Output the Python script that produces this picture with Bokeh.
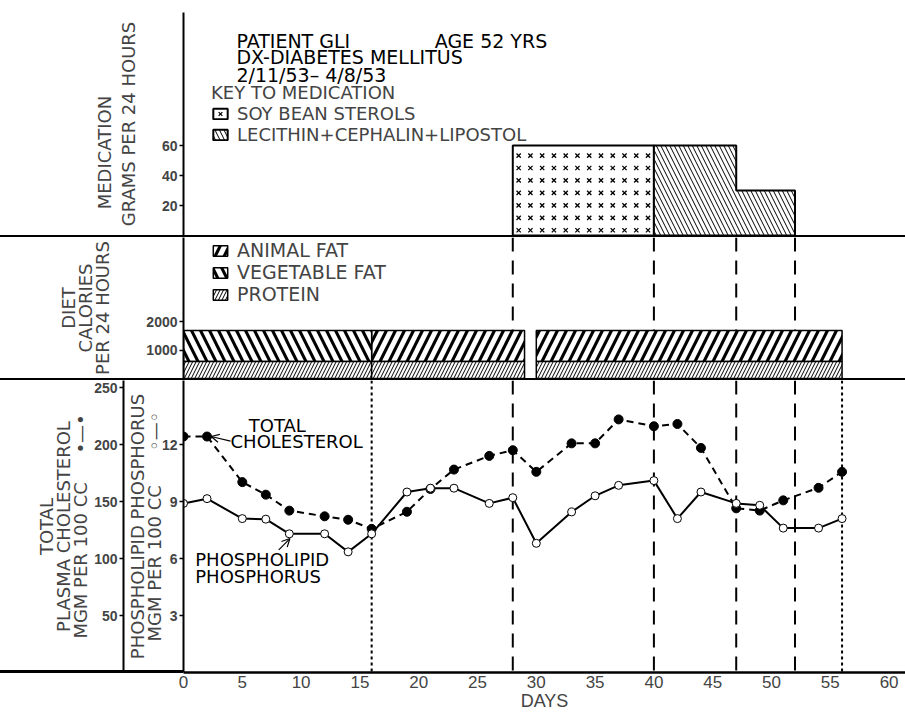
import numpy as np
from bokeh.plotting import figure
from bokeh.models import (Range1d, LinearAxis, FixedTicker, Span, Label, Arrow,
                          OpenHead, Legend, LegendItem, Div)
from bokeh.layouts import column
from bokeh.embed import file_html
from bokeh.resources import INLINE

FONT = "DejaVu Sans"
NUM_FONT = "Liberation Sans"

# ---------------- data ----------------
day_ticks = [0, 5, 10, 15, 20, 25, 30, 35, 40, 45, 50, 55, 60]
med_ticks = [20, 40, 60]
diet_ticks = [1000, 2000]
chol_ticks = [50, 100, 150, 200, 250]
phos_ticks = [3, 6, 9, 12]

soy_days = [28, 40]
soy_dose = 60
leci_days = [40, 47, 52]
leci_dose = [60, 30]

veg_left, veg_right = [0], [16]
animal_left, animal_right = [16, 30], [29, 56]
protein_left, protein_right = [0, 16, 30], [16, 29, 56]
protein_cal = 600
total_cal = 1700

event_days_dashed = [28, 40, 47, 52]
event_days_dotted = [16, 56]

chol_days = [0, 2, 5, 7, 9, 12, 14, 16, 19, 21, 23, 26, 28, 30, 33, 35, 37, 40, 42, 44, 47, 49, 51, 54, 56]
chol_vals = [207, 207, 167, 156, 142, 137, 134, 126, 141, 161, 178, 190, 195, 176, 201, 201, 222, 216, 218, 197, 144, 142, 151, 162, 176]
phos_days = [0, 2, 5, 7, 9, 12, 14, 16, 19, 21, 23, 26, 28, 30, 33, 35, 37, 40, 42, 44, 47, 49, 51, 54, 56]
phos_vals = [8.9, 9.15, 8.1, 8.07, 7.3, 7.3, 6.35, 7.3, 9.5, 9.7, 9.7, 8.9, 9.2, 6.8, 8.45, 9.3, 9.85, 10.1, 8.1, 9.5, 8.9, 8.8, 7.6, 7.6, 8.1]

# ---------------- layout constants ----------------
W = 905
LB = 183
PX_DAY = 11.76
X_END = (W - LB) / PX_DAY


def base_fig(height, y_end, top=0, bottom=0):
    p = figure(width=W, height=height, x_range=Range1d(0, X_END), y_range=Range1d(0, y_end),
               output_backend="svg", toolbar_location=None, x_axis_location=None,
               y_axis_location=None, min_border_left=LB, min_border_right=0,
               min_border_top=top, min_border_bottom=bottom)
    p.outline_line_color = None
    p.grid.visible = False
    p.background_fill_color = "white"
    p.border_fill_color = "white"
    return p


def style_yaxis(ax, standoff, line_height):
    ax.axis_line_width = 2
    ax.major_tick_in = 0
    ax.major_tick_out = 4
    ax.major_tick_line_width = 1.5
    ax.minor_tick_line_color = None
    ax.major_label_standoff = 2
    ax.major_label_text_font = NUM_FONT
    ax.major_label_text_font_size = "14px"
    ax.major_label_text_font_style = "bold"
    ax.axis_label_text_font = FONT
    ax.axis_label_text_font_size = "18px"
    ax.axis_label_text_font_style = "normal"
    ax.axis_label_standoff = standoff
    ax.axis_label_text_line_height = line_height


def rule(width, height, margin=(0, 0, 0, 0)):
    return Div(width=width, height=height, margin=margin,
               styles={"background-color": "black", "position": "relative", "z-index": "5"})


def label(p, txt, x, y, size, **kw):
    p.add_layout(Label(x=x, y=y, text=txt, text_font=FONT, text_font_size=size,
                       text_baseline="middle", text_color="black", **kw))


# ---------------- medication panel ----------------
p1 = base_fig(235, 223 / 1.5, top=12)
ax1 = LinearAxis(ticker=FixedTicker(ticks=med_ticks),
                 axis_label="MEDICATION" + "\u00a0" * 10 + "\nGRAMS PER 24 HOURS")
style_yaxis(ax1, 20, 1.15)
p1.add_layout(ax1, "left")

soy_r = p1.quad(left=[soy_days[0]], right=[soy_days[1]], bottom=[0], top=[soy_dose],
                fill_color="white", line_color="black", line_width=2)
gx, gy = np.meshgrid(np.arange(soy_days[0] + 0.5, soy_days[1], 1.0),
                     np.arange(3.5, soy_dose, 8.3))
soyx_r = p1.scatter(gx.ravel(), gy.ravel(), marker="x", size=6, line_width=1.3, line_color="black")

lx, ly = [leci_days[0]], [0]
for i, d in enumerate(leci_dose):
    lx += [leci_days[i], leci_days[i + 1]]
    ly += [d, d]
lx.append(leci_days[-1])
ly.append(0)
leci_r = p1.patch(lx, ly, fill_color="white", hatch_pattern="left_diagonal_line",
                  hatch_color="black", hatch_scale=9, hatch_weight=1,
                  line_color="black", line_width=2)

header = ["PATIENT GLI" + "\u00a0" * 14 + "AGE 52 YRS", "DX-DIABETES MELLITUS", "2/11/53\u2013 4/8/53"]
for txt, yy in zip(header, [130.0, 119.0, 106.7]):
    label(p1, txt, 4.5, yy, "19px")

leg1 = Legend(items=[LegendItem(label="SOY BEAN STEROLS", renderers=[soy_r, soyx_r]),
                     LegendItem(label="LECITHIN+CEPHALIN+LIPOSTOL", renderers=[leci_r])],
              title="KEY TO MEDICATION", location=(28, 90))

# ---------------- diet panel ----------------
p2 = base_fig(141, 141 / 0.0283)
ax2 = LinearAxis(ticker=FixedTicker(ticks=diet_ticks), axis_label="DIET\nCALORIES\nPER 24 HOURS")
style_yaxis(ax2, 30, 0.81)
p2.add_layout(ax2, "left")

for d in event_days_dashed:
    p2.add_layout(Span(location=d, dimension="height", line_dash="14 9", line_width=2,
                       line_color="black", level="underlay"))

animal_r = p2.quad(left=animal_left, right=animal_right, bottom=protein_cal, top=total_cal,
                   fill_color="black", hatch_pattern="right_diagonal_line", hatch_color="white",
                   hatch_scale=18, hatch_weight=5, line_color="black", line_width=1.5)
veg_r = p2.quad(left=veg_left, right=veg_right, bottom=protein_cal, top=total_cal,
                fill_color="black", hatch_pattern="left_diagonal_line", hatch_color="white",
                hatch_scale=18, hatch_weight=5, line_color="black", line_width=1.5)
prot_r = p2.quad(left=protein_left, right=protein_right, bottom=0, top=protein_cal,
                 fill_color="white", hatch_pattern="right_diagonal_line", hatch_color="black",
                 hatch_scale=7, hatch_weight=1, line_color="black", line_width=1.5)

leg2 = Legend(items=[LegendItem(label="ANIMAL FAT", renderers=[animal_r]),
                     LegendItem(label="VEGETABLE FAT", renderers=[veg_r]),
                     LegendItem(label="PROTEIN", renderers=[prot_r])],
              location=(28, 73))

for lg, fs in [(leg1, "18px"), (leg2, "19px")]:
    lg.border_line_color = None
    lg.background_fill_alpha = 0
    lg.padding = 0
    lg.margin = 0
    lg.spacing = 0
    lg.glyph_width = 18
    lg.glyph_height = 13
    lg.label_height = 13
    lg.label_standoff = 8
    lg.label_text_font = FONT
    lg.label_text_font_size = fs
    lg.title_text_font = FONT
    lg.title_text_font_size = fs
    lg.title_text_font_style = "normal"
    lg.title_standoff = 0
p1.add_layout(leg1)
p2.add_layout(leg2)

# ---------------- blood panel ----------------
CH_TOP = 292 / 1.14
p3 = base_fig(336, CH_TOP, bottom=44)
p3.extra_y_ranges = {"phos": Range1d(0, CH_TOP / (50 / 3))}

ax_ph = LinearAxis(y_range_name="phos", ticker=FixedTicker(ticks=phos_ticks),
                   axis_label="PHOSPHOLIPID PHOSPHORUS\nMGM PER 100 CC" + "\u00a0" * 6 + "\u25e6\u2014\u25e6")
style_yaxis(ax_ph, -6, 0.81)
p3.add_layout(ax_ph, "left")
ax_ch = LinearAxis(ticker=FixedTicker(ticks=chol_ticks),
                   axis_label="TOTAL\nPLASMA CHOLESTEROL\nMGM PER 100 CC" + "\u00a0" * 5 + "\u2022\u2014\u2022")
style_yaxis(ax_ch, 0, 0.81)
p3.add_layout(ax_ch, "left")

ax_x = LinearAxis(ticker=FixedTicker(ticks=day_ticks), axis_label="DAYS")
ax_x.axis_line_width = 2.5
ax_x.major_tick_in = 0
ax_x.major_tick_out = 0
ax_x.minor_tick_line_color = None
ax_x.major_label_standoff = 3
ax_x.major_label_text_font = NUM_FONT
ax_x.major_label_text_font_size = "17px"
ax_x.axis_label_text_font = NUM_FONT
ax_x.axis_label_text_font_size = "18px"
ax_x.axis_label_text_font_style = "normal"
ax_x.axis_label_standoff = 0
p3.add_layout(ax_x, "below")

for d in event_days_dashed:
    p3.add_layout(Span(location=d, dimension="height", line_dash="14 9", line_width=2,
                       line_color="black", level="underlay"))
for d in event_days_dotted:
    p3.add_layout(Span(location=d, dimension="height", line_dash="3 3", line_width=2,
                       line_color="black", level="underlay"))

p3.line(chol_days, chol_vals, line_color="black", line_width=2, line_dash="7 5")
p3.scatter(chol_days, chol_vals, marker="circle", size=9, fill_color="black", line_color="black")
p3.line(phos_days, phos_vals, y_range_name="phos", line_color="black", line_width=2)
p3.scatter(phos_days, phos_vals, y_range_name="phos", marker="circle", size=8,
           fill_color="white", line_color="black", line_width=1)

for txt, xx, yy in [("TOTAL", 5.55, 216.7), ("CHOLESTEROL", 4.0, 202.6),
                    ("PHOSPHOLIPID", 1.0, 98.7), ("PHOSPHORUS", 1.0, 84.2)]:
    label(p3, txt, xx, yy, "18px")

p3.add_layout(Arrow(end=OpenHead(size=8, line_width=1.2), x_start=4.0, y_start=203,
                    x_end=chol_days[1] + 0.35, y_end=chol_vals[1], line_width=1.2))
p3.add_layout(Arrow(end=OpenHead(size=8, line_width=1.2), x_start=8.1, y_start=6.45,
                    x_end=phos_days[4] + 0.05, y_end=phos_vals[4] - 0.25, line_width=1.2,
                    y_range_name="phos"))

layout = column(p1, rule(W, 2), p2, rule(W, 2), p3, rule(LB, 3, margin=(-46, 0, 0, 0)))
open("out.html", "w").write(file_html(layout, INLINE))
